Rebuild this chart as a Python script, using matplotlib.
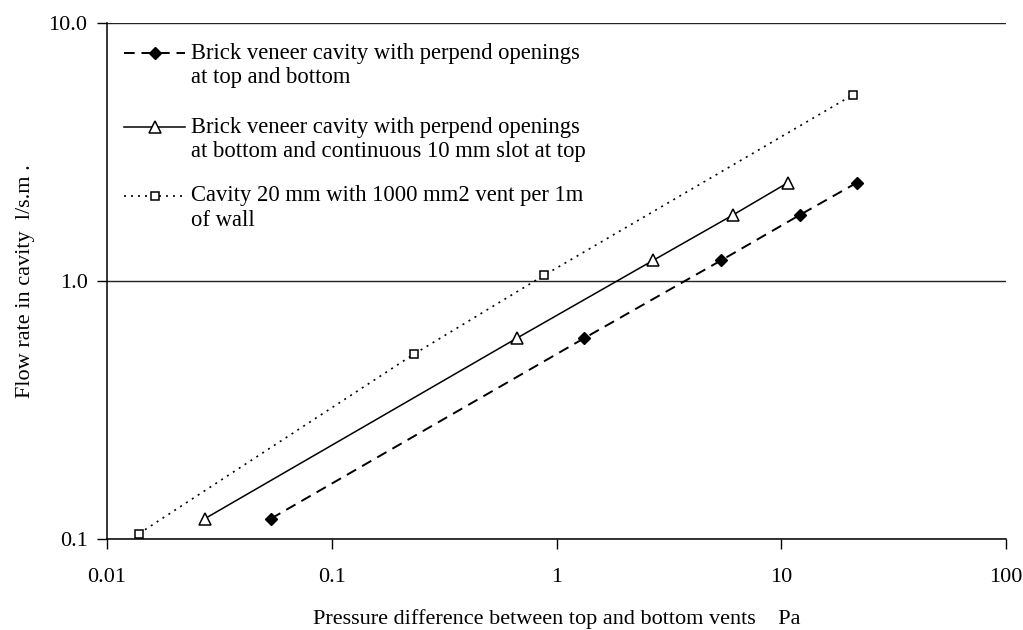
import matplotlib
matplotlib.use("Agg")
import matplotlib.pyplot as plt
from matplotlib.ticker import FixedLocator, FixedFormatter, NullLocator

plt.rcParams['font.family'] = ['Liberation Serif', 'DejaVu Serif']

# data (log-log)
perp_x = [0.0537, 1.33, 5.4, 12.1, 21.7]
perp_y = [0.12, 0.6, 1.2, 1.8, 2.4]

slot_x = [0.0273, 0.667, 2.69, 6.1, 10.7]
slot_y = [0.12, 0.6, 1.2, 1.8, 2.4]

vent_x = [0.0139, 0.232, 0.88, 20.8]
vent_y = [0.105, 0.52, 1.05, 5.25]

labels = [
    ["Brick veneer cavity with perpend openings", "at top and bottom"],
    ["Brick veneer cavity with perpend openings", "at bottom and continuous 10 mm slot at top"],
    ["Cavity 20 mm with 1000 mm2 vent per 1m", "of wall"],
]
x_ticks = [0.01, 0.1, 1, 10, 100]
x_ticklabels = ["0.01", "0.1", "1", "10", "100"]
y_ticks = [0.1, 1, 10]
y_ticklabels = ["0.1", "1.0", "10.0"]

W, H = 1023, 630
fig = plt.figure(figsize=(W / 100, H / 100), dpi=100)
# axes box in pixels: left 107, right 1006, top 22.7, bottom 539
L, R, T, B = 107, 1006, 22.7, 539
ax = fig.add_axes([L / W, (H - B) / H, (R - L) / W, (B - T) / H])

line_styles = [
    dict(color="black", lw=1.4, ls=(0, (5.5, 3.5))),
    dict(color="black", lw=1.1, ls="-"),
    dict(color="black", lw=1.2, ls=(0, (1.2, 3))),
]
marker_styles = [
    dict(marker="D", ms=6, mfc="black", mec="black"),
    dict(marker="^", ms=8, mfc="white", mec="black", mew=1.1),
    dict(marker="s", ms=6, mfc="white", mec="black", mew=1.1),
]
series = [(perp_x, perp_y), (slot_x, slot_y), (vent_x, vent_y)]

for (xs, ys), ls_, ms_ in zip(series, line_styles, marker_styles):
    ax.plot(xs, ys, **ls_, **ms_)

ax.set_xscale("log")
ax.set_yscale("log")
ax.set_xlim(0.01, 100)
ax.set_ylim(0.1, 10)

ax.xaxis.set_major_locator(FixedLocator(x_ticks))
ax.xaxis.set_major_formatter(FixedFormatter(x_ticklabels))
ax.yaxis.set_major_locator(FixedLocator(y_ticks))
ax.yaxis.set_major_formatter(FixedFormatter(y_ticklabels))
ax.xaxis.set_minor_locator(NullLocator())
ax.yaxis.set_minor_locator(NullLocator())

ax.tick_params(axis="both", direction="out", length=7, width=1, labelsize=16, colors="black")
ax.tick_params(axis="x", pad=14)
ax.tick_params(axis="y", pad=7)

ax.yaxis.grid(True, which="major", color="#222222", lw=1)
ax.set_axisbelow(True)
for s in ["top", "right"]:
    ax.spines[s].set_visible(False)
for s in ["left", "bottom"]:
    ax.spines[s].set_linewidth(1.1)

ax.set_xlabel("Pressure difference between top and bottom vents    Pa", fontsize=16, labelpad=16)
ax.set_ylabel("Flow rate in cavity  l/s.m .", fontsize=16)
ax.yaxis.set_label_coords((35 - L) / (R - L), 0.5)

# legend drawn by hand: handle sits on the first text line, as in the reference
def ax_xy(px, py):
    return (px - L) / (R - L), (B - py) / (B - T)

mark_y = [53, 127, 196]
for (l1, l2), my, ls_, ms_ in zip(labels, mark_y, line_styles, marker_styles):
    x0, y0 = ax_xy(124, my)
    x1, _ = ax_xy(185, my)
    xm, _ = ax_xy(155, my)
    ax.plot([x0, x1], [y0, y0], transform=ax.transAxes, clip_on=False, **ls_)
    ax.plot([xm], [y0], transform=ax.transAxes, clip_on=False, ls="none", **ms_)
    tx, ty1 = ax_xy(191, my + 5.5)
    _, ty2 = ax_xy(191, my + 30)
    ax.text(tx, ty1, l1, transform=ax.transAxes, fontsize=16.3, va="baseline", ha="left")
    ax.text(tx, ty2, l2, transform=ax.transAxes, fontsize=16.3, va="baseline", ha="left")

fig.savefig("out.png", dpi=100)
